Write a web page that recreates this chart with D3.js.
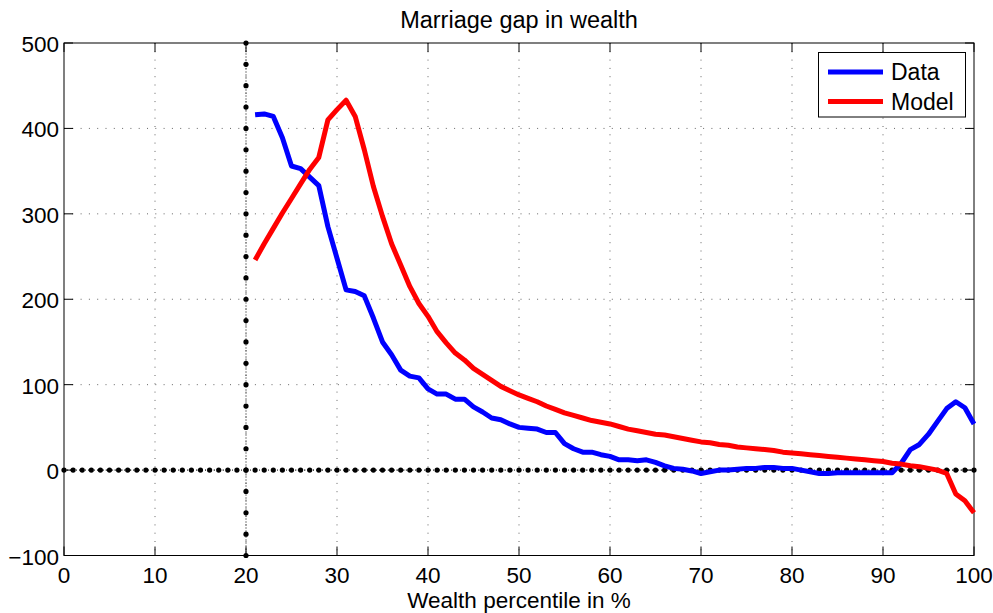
<!DOCTYPE html>
<html><head><meta charset="utf-8">
<script src="https://cdn.jsdelivr.net/npm/d3@7"></script>
<style>body{margin:0;background:#fff}svg{display:block;font-family:"Liberation Sans",Arial,sans-serif}</style>
</head><body><svg id="c" width="993" height="613"></svg>
<script>
const percentiles = d3.range(21, 101);
const dataValues = [416,417,414,389,356,353,343,333,285,248,211,209,204,178,150,135,117,110,108,95,89,89,83,83,74,68,61,59,54,50,49,48,44,44,31,25,21,21,18,16,12,12,11,12,9,5,2,1,-1,-4,-2,0,0,1,2,2,3,3,2,2,0,-2,-4,-4,-3,-3,-3,-3,-3,-3,-3,8,24,30,42,57,72,80,73,54];
const modelValues = [246,265,283,301,318,335,352,366,410,422,433,414,375,332,297,265,240,215,195,180,162,149,137,129,119,112,105,98,93,88,84,80,75,71,67,64,61,58,56,54,51,48,46,44,42,41,39,37,35,33,32,30,29,27,26,25,24,23,21,20,19,18,17,16,15,14,13,12,11,10,8,7,5,4,2,0,-4,-28,-36,-50];
const xTicks = [0,10,20,30,40,50,60,70,80,90,100];
const yTicks = [-100,0,100,200,300,400,500];
const zeroDots = d3.range(0, 101);
const vDots = d3.range(-100, 501, 25);
const seriesNames = ["Data","Model"];
const seriesColors = ["#0000ff","#ff0000"];

const svg = d3.select("#c");
const L=64,R=974,T=43,B=555.5;
const x = d3.scaleLinear().domain([0,100]).range([L,R]);
const y = d3.scaleLinear().domain([-100,500]).range([B,T]);

// grid
const g = svg.append("g");
g.selectAll(".gx").data(xTicks.slice(1,-1)).join("line")
 .attr("x1",d=>x(d)).attr("x2",d=>x(d)).attr("y1",T).attr("y2",B)
 .attr("stroke","#666").attr("stroke-width",1).attr("stroke-dasharray","1,7.3");
g.selectAll(".gy").data(yTicks.slice(1,-1)).join("line")
 .attr("y1",d=>y(d)).attr("y2",d=>y(d)).attr("x1",L).attr("x2",R)
 .attr("stroke","#666").attr("stroke-width",1).attr("stroke-dasharray","1,7.3");

// axes box
svg.append("rect").attr("x",L).attr("y",T).attr("width",R-L).attr("height",B-T)
 .attr("fill","none").attr("stroke","#000").attr("stroke-width",1);

// ticks inside
const tl=9;
xTicks.forEach(t=>{
  svg.append("line").attr("x1",x(t)).attr("x2",x(t)).attr("y1",B).attr("y2",B-tl).attr("stroke","#000");
  svg.append("line").attr("x1",x(t)).attr("x2",x(t)).attr("y1",T).attr("y2",T+tl).attr("stroke","#000");
  svg.append("text").attr("x",x(t)).attr("y",582.5).attr("text-anchor","middle").attr("font-size",22.5).text(t);
});
yTicks.forEach(t=>{
  svg.append("line").attr("x1",L).attr("x2",L+tl).attr("y1",y(t)).attr("y2",y(t)).attr("stroke","#000");
  svg.append("line").attr("x1",R).attr("x2",R-tl).attr("y1",y(t)).attr("y2",y(t)).attr("stroke","#000");
  svg.append("text").attr("x",L-5).attr("y",y(t)+9).attr("text-anchor","end").attr("font-size",22.5)
   .text(t<0?"\u2212"+Math.abs(t):t);
});

// reference dotted lines
svg.append("line").attr("x1",x(0)).attr("x2",x(100)).attr("y1",y(0)).attr("y2",y(0))
 .attr("stroke","#000").attr("stroke-width",1).attr("stroke-dasharray","1,2");
svg.selectAll(".zd").data(zeroDots).join("circle").attr("cx",d=>x(d)).attr("cy",y(0)).attr("r",2.6).attr("fill","#000");
svg.append("line").attr("x1",x(20)).attr("x2",x(20)).attr("y1",y(-100)).attr("y2",y(500))
 .attr("stroke","#000").attr("stroke-width",1).attr("stroke-dasharray","1,2");
svg.selectAll(".vd").data(vDots).join("circle").attr("cx",x(20)).attr("cy",d=>y(d)).attr("r",2.6).attr("fill","#000");

// series
const line = d3.line().x((d,i)=>x(percentiles[i])).y(d=>y(d));
[dataValues, modelValues].forEach((vals,k)=>{
  svg.append("path").datum(vals).attr("d",line).attr("fill","none")
   .attr("stroke",seriesColors[k]).attr("stroke-width",5).attr("stroke-linejoin","round");
});

// title / labels
svg.append("text").attr("x",(L+R)/2).attr("y",28).attr("text-anchor","middle").attr("font-size",23.5).text("Marriage gap in wealth");
svg.append("text").attr("x",(L+R)/2).attr("y",608).attr("text-anchor","middle").attr("font-size",22.5).attr("textLength",null).text("Wealth percentile in %");

// legend
const lg = svg.append("g");
lg.append("rect").attr("x",818.5).attr("y",52.5).attr("width",147).attr("height",64.5).attr("fill","#fff").attr("stroke","#000");
seriesNames.forEach((n,k)=>{
  const yy = 72 + k*29.5;
  lg.append("line").attr("x1",828).attr("x2",883).attr("y1",yy).attr("y2",yy).attr("stroke",seriesColors[k]).attr("stroke-width",5);
  lg.append("text").attr("x",891).attr("y",yy+8).attr("font-size",23).text(n);
});
</script></body></html>
